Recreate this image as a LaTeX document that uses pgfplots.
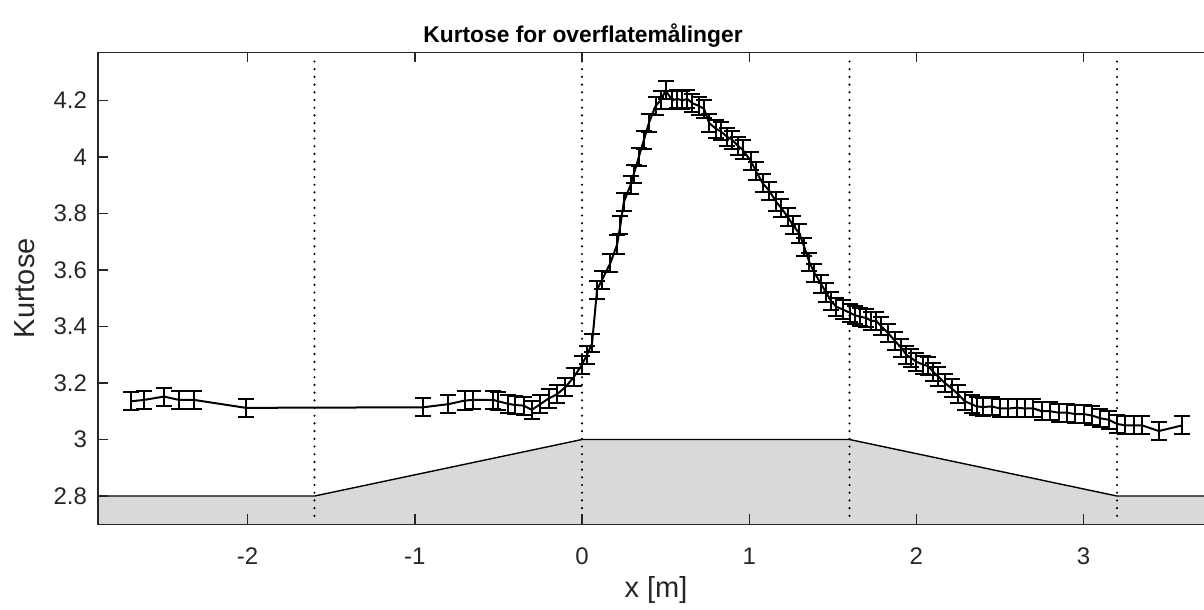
\documentclass[border=0pt]{standalone}
\usepackage{fontspec}
\setmainfont{Liberation Sans}
\usepackage{pgfplots}
\pgfplotsset{compat=1.18}
\usepackage{pgfplotstable}
\definecolor{axc}{RGB}{38,38,38}
\definecolor{fillg}{RGB}{217,217,217}

\pgfplotstableread{
x y e
-2.70 3.135 0.032
-2.62 3.140 0.032
-2.50 3.152 0.032
-2.41 3.140 0.032
-2.32 3.140 0.032
-2.01 3.112 0.032
-0.95 3.114 0.032
-0.80 3.125 0.032
-0.70 3.138 0.032
-0.65 3.140 0.032
-0.53 3.140 0.032
-0.50 3.135 0.032
-0.44 3.126 0.032
-0.40 3.122 0.032
-0.35 3.120 0.032
-0.30 3.105 0.032
-0.25 3.125 0.032
-0.20 3.145 0.032
-0.15 3.160 0.032
-0.10 3.185 0.032
-0.05 3.220 0.032
0.00 3.265 0.032
0.03 3.300 0.032
0.06 3.340 0.032
0.09 3.530 0.032
0.12 3.565 0.032
0.17 3.625 0.032
0.21 3.690 0.032
0.23 3.760 0.032
0.25 3.840 0.032
0.29 3.900 0.032
0.31 3.940 0.032
0.34 4.000 0.032
0.37 4.060 0.032
0.40 4.120 0.032
0.44 4.180 0.032
0.47 4.200 0.032
0.50 4.235 0.032
0.54 4.200 0.032
0.57 4.205 0.032
0.60 4.200 0.032
0.63 4.205 0.032
0.66 4.190 0.032
0.70 4.180 0.032
0.73 4.170 0.032
0.76 4.120 0.032
0.80 4.100 0.032
0.83 4.090 0.032
0.87 4.070 0.032
0.90 4.060 0.032
0.93 4.040 0.032
0.96 4.026 0.032
1.01 3.985 0.032
1.04 3.950 0.032
1.08 3.907 0.032
1.12 3.880 0.032
1.16 3.842 0.032
1.19 3.820 0.032
1.23 3.788 0.032
1.26 3.760 0.032
1.30 3.729 0.032
1.33 3.680 0.032
1.36 3.627 0.032
1.39 3.590 0.032
1.43 3.550 0.032
1.46 3.520 0.032
1.49 3.490 0.032
1.52 3.470 0.032
1.56 3.460 0.032
1.60 3.449 0.032
1.63 3.440 0.032
1.66 3.435 0.032
1.70 3.430 0.032
1.73 3.420 0.032
1.76 3.420 0.032
1.79 3.400 0.032
1.83 3.377 0.032
1.87 3.350 0.032
1.91 3.324 0.032
1.94 3.300 0.032
1.97 3.288 0.032
2.00 3.275 0.032
2.04 3.265 0.032
2.07 3.260 0.032
2.10 3.240 0.032
2.13 3.223 0.032
2.17 3.200 0.032
2.21 3.181 0.032
2.25 3.160 0.032
2.29 3.135 0.032
2.33 3.125 0.032
2.36 3.117 0.032
2.40 3.115 0.032
2.45 3.117 0.032
2.50 3.110 0.032
2.55 3.110 0.032
2.60 3.112 0.032
2.65 3.110 0.032
2.70 3.110 0.032
2.75 3.100 0.032
2.80 3.100 0.032
2.85 3.095 0.032
2.90 3.095 0.032
2.95 3.090 0.032
3.00 3.090 0.032
3.05 3.085 0.032
3.10 3.075 0.032
3.15 3.070 0.032
3.20 3.055 0.032
3.25 3.050 0.032
3.30 3.050 0.032
3.35 3.050 0.032
3.45 3.030 0.032
3.59 3.050 0.032
}\datatab

\begin{document}
\begin{tikzpicture}
\begin{axis}[
  scale only axis, width=558pt, height=236pt,
  xmin=-2.895, xmax=3.78, ymin=2.7, ymax=4.37,
  xtick={-2,-1,0,1,2,3},
  xticklabels={-2,-1,0,1,2,3},
  ytick={2.8,3,3.2,3.4,3.6,3.8,4,4.2},
  yticklabels={2.8,3,3.2,3.4,3.6,3.8,4,4.2},
  tick align=inside, tick pos=both, major tick length=5pt,
  axis line style={axc, line width=0.7pt},
  every tick/.style={axc, line width=0.7pt},
  tick label style={font=\fontsize{12}{14}\selectfont, text=axc},
  xticklabel style={anchor=center, yshift=-16pt},
  yticklabel style={anchor=east, xshift=-2pt},
  axis on top=true,
  title={Kurtose for overflatemålinger},
  title style={font=\fontsize{11.4}{13}\selectfont\bfseries, at={(axis description cs:0.4346,1)}, anchor=center, yshift=2.4pt},
  xlabel={x [m]},
  xlabel style={font=\fontsize{14.5}{16}\selectfont, text=axc, at={(axis description cs:0.5,0)}, anchor=center, yshift=-33pt},
  ylabel={Kurtose},
  ylabel style={font=\fontsize{14.5}{16}\selectfont, text=axc, at={(axis description cs:-0.0654,0.5)}, anchor=center},
]
\addplot[fill=fillg, draw=none] coordinates {(-3,2.8) (-1.6,2.8) (0,3) (1.6,3) (3.2,2.8) (4,2.8) (4,2.6) (-3,2.6)} -- cycle;
\addplot[black, line width=0.7pt] coordinates {(-3,2.8) (-1.6,2.8) (0,3) (1.6,3) (3.2,2.8) (4,2.8)};
\addplot[black, line width=1.2pt, line cap=round, dash pattern=on 0pt off 3.85pt] coordinates {(-1.6,2.73) (-1.6,4.35)};
\addplot[black, line width=1.2pt, line cap=round, dash pattern=on 0pt off 3.85pt] coordinates {(0,2.73) (0,4.35)};
\addplot[black, line width=1.2pt, line cap=round, dash pattern=on 0pt off 3.85pt] coordinates {(1.6,2.73) (1.6,4.35)};
\addplot[black, line width=1.2pt, line cap=round, dash pattern=on 0pt off 3.85pt] coordinates {(3.2,2.73) (3.2,4.35)};
\addplot[black, line width=1pt, mark=none,
  error bars/.cd, y dir=both, y explicit,
  error bar style={line width=1pt, black},
  error mark options={rotate=90, mark size=4pt, line width=1pt, black}]
  table[x=x, y=y, y error=e] {\datatab};
\coordinate (sw) at (rel axis cs:0,0);
\coordinate (ne) at (rel axis cs:1,1);
\end{axis}
\pgfresetboundingbox
\path[use as bounding box] ([xshift=-49pt,yshift=-42.85pt]sw) rectangle ([xshift=-5pt,yshift=26.15pt]ne);
\end{tikzpicture}
\end{document}
